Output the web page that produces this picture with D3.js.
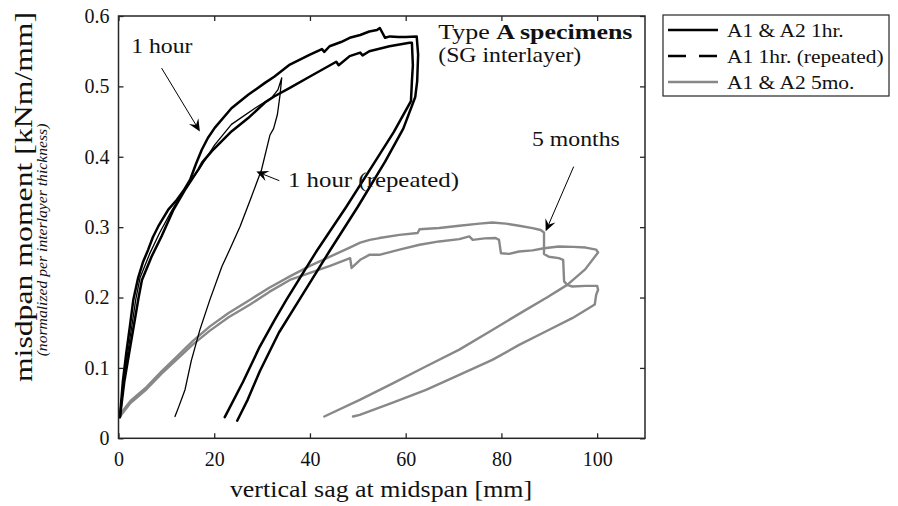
<!DOCTYPE html>
<html><head><meta charset="utf-8">
<script src="https://cdn.jsdelivr.net/npm/d3@7"></script>
<style>
body{margin:0;background:#fff}
svg{display:block}
text{font-family:"Liberation Serif","Times New Roman",serif;fill:#111}
</style>
</head><body>
<svg id="c" width="898" height="506"></svg>
<script>
// ---------- data ----------
const xTicks = [0, 20, 40, 60, 80, 100];
const xTickLabels = ["0", "20", "40", "60", "80", "100"];
const yTicks = [0, 0.1, 0.2, 0.3, 0.4, 0.5, 0.6];
const yTickLabels = ["0", "0.1", "0.2", "0.3", "0.4", "0.5", "0.6"];

const seriesNames = ["A1 & A2 1hr.", "A1 1hr. (repeated)", "A1 & A2 5mo."];

// A1 1hr (black, first loop)
const hr1aX = [0.3,0.9,1.6,2.4,3.1,4.1,5.1,6.2,7.2,8.3,10.4,12.2,13.6,15.0,16.2,17.4,18.7,20.1,23.6,27.1,30.6,32.6,35.8,40.0,42.5,43.0,44.1,46.5,48.3,50.5,52.4,54.0,54.6,55.7,56.7,58.5,60.0,62.3,62.6,62.4,62.0,59.5,55.7,50.0,44.0,37.8,33.5,29.5,27.0,24.8];
const hr1aY = [0.030,0.080,0.120,0.160,0.197,0.228,0.250,0.268,0.286,0.301,0.325,0.339,0.352,0.368,0.390,0.410,0.427,0.441,0.469,0.488,0.505,0.514,0.531,0.545,0.553,0.549,0.557,0.563,0.569,0.573,0.578,0.580,0.583,0.569,0.571,0.570,0.570,0.571,0.545,0.507,0.485,0.440,0.393,0.329,0.265,0.197,0.150,0.095,0.055,0.025];
// A2 1hr (black, second loop)
const hr1bX = [0.3,1.2,2.2,3.2,4.2,4.9,6.9,9.0,11.5,13.8,16.7,17.5,19.5,23.6,27.1,30.6,32.6,35.8,40.0,45.5,46.0,48.3,50.5,51.0,52.4,56.6,60.8,61.3,61.5,61.3,61.1,57.5,53.6,47.6,41.3,35.1,32.6,29.5,26.0,22.2];
const hr1bY = [0.030,0.080,0.120,0.160,0.200,0.225,0.258,0.287,0.325,0.352,0.382,0.392,0.408,0.436,0.455,0.477,0.486,0.498,0.514,0.535,0.530,0.543,0.548,0.544,0.550,0.557,0.562,0.562,0.530,0.507,0.479,0.435,0.393,0.329,0.265,0.197,0.168,0.130,0.080,0.030];
// A1 1hr repeated (thin black)
const repX = [0.3,1.0,1.9,2.8,3.6,4.5,6.5,8.6,11.0,13.5,15.5,17.0,20.1,23.6,28.5,32.0,33.3,34.1,33.75,33.2,32.4,31.65,29.9,27.6,25.4,23.5,21.6,19.1,17.0,15.2,13.9,12.6,11.8];
const repY = [0.030,0.080,0.120,0.160,0.197,0.228,0.262,0.292,0.322,0.350,0.370,0.384,0.417,0.446,0.469,0.484,0.495,0.512,0.488,0.460,0.440,0.431,0.382,0.340,0.301,0.272,0.244,0.197,0.154,0.110,0.069,0.045,0.031];
// A1 5 months (grey, upper loop)
const mo5aX = [0.3,2.5,5.9,9.0,12.2,15.5,19.1,23.0,27.5,31.5,35.8,40.0,44.2,48.3,50.5,52.5,54.5,58.7,62.5,62.9,67.0,71.2,75.4,78.1,80.9,83.7,86.5,88.2,88.9,88.9,89.9,92.0,92.9,93.1,93.75,94.8,97.6,100.0,100.2,99.8,99.5,94.8,89.25,83.7,78.1,71.2,64.25,57.3,50.4,49.0];
const mo5aY = [0.034,0.053,0.073,0.095,0.116,0.138,0.159,0.178,0.197,0.214,0.230,0.245,0.258,0.271,0.278,0.282,0.2845,0.289,0.2916,0.297,0.2987,0.302,0.305,0.3067,0.305,0.302,0.2987,0.296,0.2925,0.262,0.258,0.256,0.2536,0.223,0.218,0.2157,0.2166,0.2166,0.211,0.204,0.190,0.1707,0.1517,0.1327,0.1114,0.090,0.0687,0.0506,0.0333,0.031];
// A2 5 months (grey, lower loop)
const mo5bX = [0.3,2.5,5.9,9.0,12.2,15.5,19.1,23.0,27.5,31.5,35.8,40.0,44.2,48.4,48.7,50.5,52.5,54.5,58.7,62.9,67.0,71.2,73.3,74.0,76.5,78.8,79.5,79.9,81.6,83.7,86.5,88.9,92.0,95.0,97.6,99.8,100.2,97.5,93.75,89.5,85.1,78.1,71.2,64.2,57.3,50.4,43.0];
const mo5bY = [0.031,0.050,0.070,0.092,0.112,0.133,0.153,0.172,0.190,0.208,0.225,0.235,0.245,0.256,0.242,0.2536,0.261,0.2607,0.268,0.275,0.2797,0.283,0.2868,0.282,0.284,0.2845,0.282,0.263,0.262,0.2654,0.267,0.270,0.2726,0.272,0.271,0.268,0.264,0.240,0.218,0.200,0.1825,0.154,0.126,0.102,0.078,0.0545,0.031];

// ---------- chart ----------
const svg = d3.select("#c");
const x = d3.scaleLinear().domain([0, 110]).range([118.5, 645]);
const y = d3.scaleLinear().domain([0, 0.6]).range([438.3, 16]);
const AX = "#262626";
const GREY = "#888888";
const SX = 1.08; // horizontal stretch to mimic Computer Modern widths

function txt(g, s, px, py, opts = {}) {
  const t = g.append("text")
    .attr("transform", `translate(${px},${py}) rotate(${opts.rot || 0}) scale(${opts.sx || SX},1)`)
    .attr("text-anchor", opts.anchor || "start")
    .style("font-size", (opts.size || 20) + "px");
  if (opts.italic) t.style("font-style", "italic");
  if (Array.isArray(s)) {
    s.forEach(p => {
      const ts = t.append("tspan").text(p.t);
      if (p.bold) ts.style("font-weight", "bold");
    });
  } else t.text(s);
  return t;
}

// axes
const gx = svg.append("g").attr("transform", `translate(0,${y(0)})`)
  .call(d3.axisBottom(x).tickValues(xTicks).tickFormat((d, i) => xTickLabels[i]).tickSizeInner(-5).tickSizeOuter(0).tickPadding(13.5));
const gy = svg.append("g").attr("transform", `translate(${x(0)},0)`)
  .call(d3.axisLeft(y).tickValues(yTicks).tickFormat((d, i) => yTickLabels[i]).tickSizeInner(-5).tickSizeOuter(0).tickPadding(9));
const gt = svg.append("g").attr("transform", `translate(0,${y(0.6)})`)
  .call(d3.axisTop(x).tickValues(xTicks).tickFormat("").tickSizeInner(-5).tickSizeOuter(0));
const gr = svg.append("g").attr("transform", `translate(${x(110)},0)`)
  .call(d3.axisRight(y).tickValues(yTicks).tickFormat("").tickSizeInner(-5).tickSizeOuter(0));
[gx, gy, gt, gr].forEach(g => {
  g.select(".domain").remove();
  g.selectAll("line").attr("stroke", AX).attr("stroke-width", 1.3);
  g.selectAll("text").style("font-family", '"Liberation Serif",serif').style("font-size", "20px").attr("fill", AX);
});

// plot curves
const line = d3.line().x(d => x(d[0])).y(d => y(d[1]));
const curves = [
  {xs: mo5aX, ys: mo5aY, c: GREY, w: 2.4},
  {xs: mo5bX, ys: mo5bY, c: GREY, w: 2.4},
  {xs: hr1aX, ys: hr1aY, c: "#000", w: 2.5},
  {xs: hr1bX, ys: hr1bY, c: "#000", w: 2.5},
  {xs: repX, ys: repY, c: "#000", w: 1.3},
];
curves.forEach(cv => {
  svg.append("path").datum(d3.zip(cv.xs, cv.ys)).attr("d", line)
    .attr("fill", "none").attr("stroke", cv.c).attr("stroke-width", cv.w)
    .attr("stroke-linejoin", "round").attr("stroke-linecap", "round");
});

// box
svg.append("rect").attr("x", x(0)).attr("y", y(0.6)).attr("width", x(110) - x(0)).attr("height", y(0) - y(0.6))
  .attr("fill", "none").attr("stroke", AX).attr("stroke-width", 1.5);

// annotations
function arrow(x0, y0, x1, y1) {
  const ax = x(x0), ay = y(y0), bx = x(x1), by = y(y1);
  const ang = Math.atan2(by - ay, bx - ax);
  const L = 12, Wd = 5.5, N = 7.5;
  const ux = Math.cos(ang), uy = Math.sin(ang), vx = -uy, vy = ux;
  svg.append("line").attr("x1", ax).attr("y1", ay).attr("x2", bx - ux * N).attr("y2", by - uy * N)
    .attr("stroke", "#000").attr("stroke-width", 1);
  const pts = [[bx, by], [bx - ux * L + vx * Wd, by - uy * L + vy * Wd], [bx - ux * N, by - uy * N], [bx - ux * L - vx * Wd, by - uy * L - vy * Wd]];
  svg.append("polygon").attr("points", pts.map(p => p.join(",")).join(" ")).attr("fill", "#000");
}
arrow(9.0, 0.526, 17.0, 0.436);
arrow(33.6, 0.366, 28.8, 0.379);
arrow(95.1, 0.386, 89.25, 0.294);

const ann = svg.append("g");
txt(ann, "1 hour", x(2.65), y(0.548), {size: 22});
txt(ann, "1 hour (repeated)", x(35.4), y(0.3575), {size: 22, sx: 1.13});
txt(ann, "5 months", x(86.4), y(0.416), {size: 22});
txt(ann, [{t: "Type "}, {t: "A specimens", bold: true}], x(66.8), y(0.568), {size: 22, sx: 1.18});
txt(ann, "(SG interlayer)", x(66.8), y(0.534), {size: 22});

// axis labels
txt(svg, "vertical sag at midspan [mm]", 381, 497, {size: 24, anchor: "middle"});
txt(svg, "misdpan moment [kNm/mm]", 32, 197, {size: 25, anchor: "middle", rot: -90, sx: 1.27});
txt(svg, "(normalized per interlayer thickness)", 47, 240, {size: 15, anchor: "middle", rot: -90, italic: true, sx: 1.045});

// legend
const lg = svg.append("g");
lg.append("rect").attr("x", 663).attr("y", 15).attr("width", 226).attr("height", 81)
  .attr("fill", "#fff").attr("stroke", AX).attr("stroke-width", 1.2);
const legStyles = [{c: "#000", dash: null}, {c: "#000", dash: "18,13"}, {c: GREY, dash: null}];
const rowY = [30, 56, 82];
seriesNames.forEach((nm, i) => {
  const l = lg.append("line").attr("x1", 668).attr("x2", 718).attr("y1", rowY[i]).attr("y2", rowY[i])
    .attr("stroke", legStyles[i].c).attr("stroke-width", 2.5);
  if (legStyles[i].dash) l.attr("stroke-dasharray", legStyles[i].dash);
  txt(lg, nm, 727, rowY[i] + 6.7, {size: 19.5, sx: 1.1});
});
</script>
</body></html>
